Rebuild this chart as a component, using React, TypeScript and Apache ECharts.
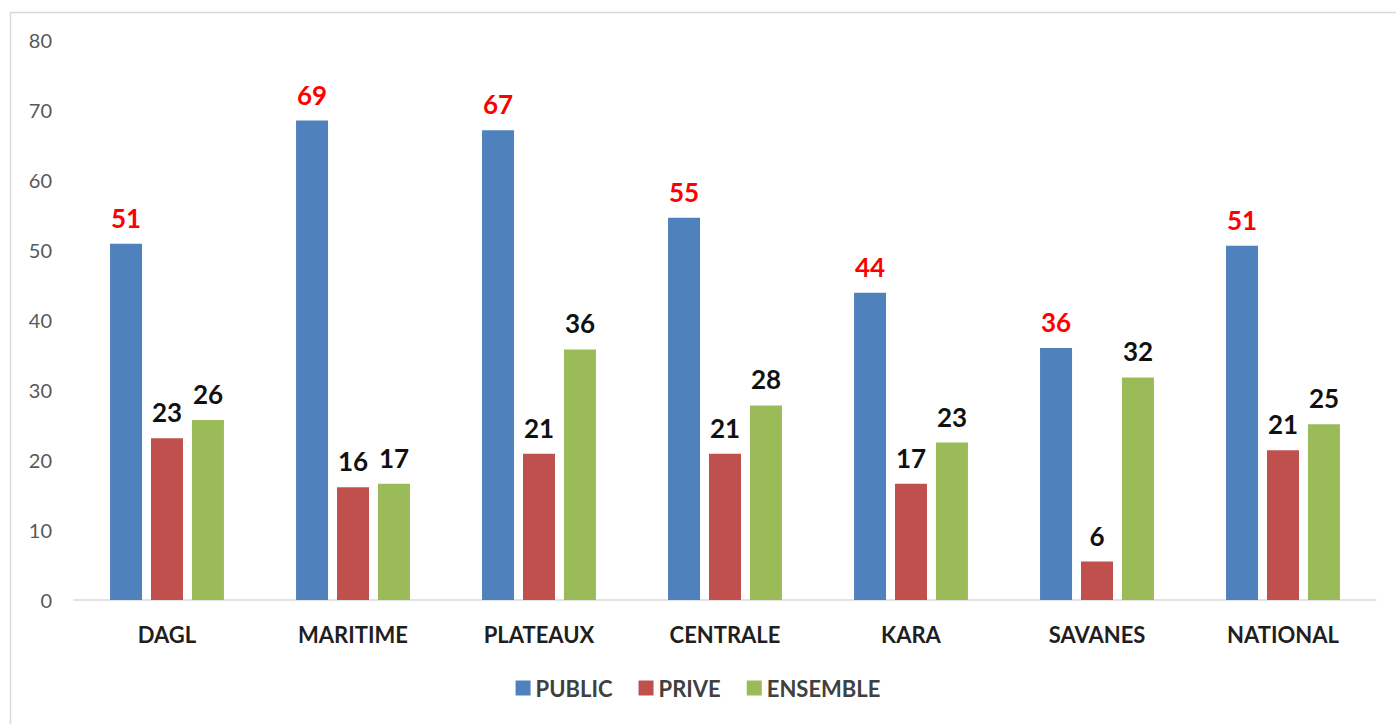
import React, { useEffect, useRef } from "react";
import * as echarts from "echarts";

const categories = ["DAGL", "MARITIME", "PLATEAUX", "CENTRALE", "KARA", "SAVANES", "NATIONAL"];
const publicValues = [50.9, 68.5, 67.1, 54.6, 43.9, 36.0, 50.6];
const priveValues = [23.1, 16.1, 20.9, 20.9, 16.6, 5.5, 21.4];
const ensembleValues = [25.7, 16.6, 35.8, 27.8, 22.5, 31.8, 25.1];
const seriesNames = ["PUBLIC", "PRIVE", "ENSEMBLE"];
const colors = ["#4F81BD", "#C0504D", "#9BBB59"];

const FONT = "Lato, 'Open Sans', sans-serif";

export default function App() {
  const ref = useRef<HTMLDivElement>(null);
  useEffect(() => {
    if (!ref.current) return;
    const chart = echarts.init(ref.current, null, { renderer: "svg" });
    const mk = (name: string, data: number[], color: string, labelColor: string) => ({
      name,
      type: "bar",
      data,
      barWidth: 32,
      barGap: "28%",
      itemStyle: { color },
      label: {
        show: true,
        position: "top",
        distance: 13,
        color: labelColor,
        fontSize: 26,
        fontWeight: "bold",
        fontFamily: FONT,
        formatter: (p: any) => String(Math.round(p.value)),
      },
    });
    chart.setOption({
      animation: false,
      backgroundColor: "#ffffff",
      graphic: [
        {
          type: "rect",
          shape: { x: 10.5, y: 12.5, width: 1400, height: 800 },
          style: { fill: "none", stroke: "#d9d9d9", lineWidth: 1.5 },
          silent: true,
        },
      ],
      grid: { left: 74, right: 20, top: 40, bottom: 124, containLabel: false },
      legend: {
        bottom: 20,
        left: "center",
        itemWidth: 15,
        itemHeight: 15,
        itemGap: 26,
        icon: "rect",
        textStyle: { color: "#404040", fontSize: 22, fontWeight: "bold", fontFamily: FONT },
        data: seriesNames,
      },
      xAxis: {
        type: "category",
        data: categories,
        axisLine: { lineStyle: { color: "#d9d9d9", width: 1.5 } },
        axisTick: { show: false },
        axisLabel: {
          color: "#1f1f1f",
          fontSize: 22,
          fontWeight: "bold",
          fontFamily: FONT,
          margin: 23,
        },
      },
      yAxis: {
        type: "value",
        min: 0,
        max: 80,
        interval: 10,
        splitLine: { show: false },
        axisLine: { show: false },
        axisTick: { show: false },
        axisLabel: { color: "#595959", fontSize: 20, fontFamily: FONT, margin: 22 },
      },
      series: [
        mk(seriesNames[0], publicValues, colors[0], "#ff0000"),
        mk(seriesNames[1], priveValues, colors[1], "#111111"),
        mk(seriesNames[2], ensembleValues, colors[2], "#111111"),
      ],
    });
    return () => chart.dispose();
  }, []);
  return (
    <div
      ref={ref}
      style={{ position: "fixed", left: 0, top: 0, width: 1396, height: 724, background: "#fff" }}
    />
  );
}
